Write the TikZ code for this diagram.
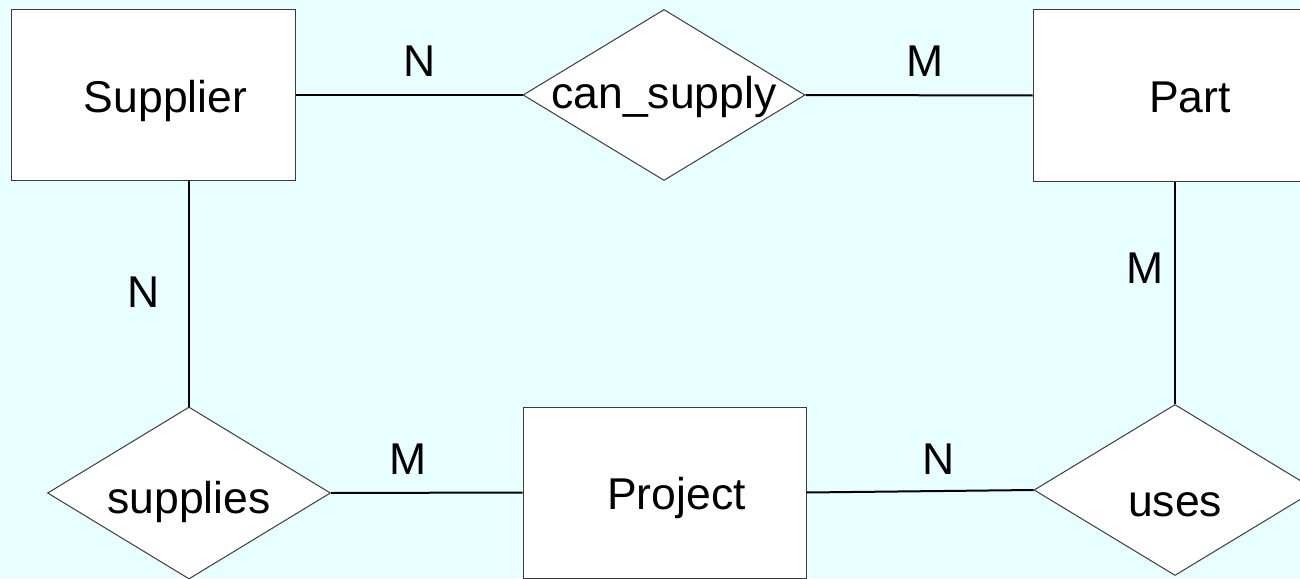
\documentclass[tikz,border=0pt]{standalone}
\usepackage{fontspec}
\setmainfont{Liberation Sans}
\usetikzlibrary{shapes.geometric}
\definecolor{bgcol}{RGB}{232,255,255}
\definecolor{edgecol}{RGB}{60,60,60}
\tikzset{
  entity/.style={draw=edgecol, fill=white, line width=1pt, rectangle, inner sep=0pt,
    minimum width=284pt, minimum height=171pt, text height=34pt, text depth=0pt,
    font=\fontsize{44.5}{53}\selectfont},
  relation/.style={draw=edgecol, fill=white, line width=1pt, diamond, inner sep=0pt,
    minimum width=282pt, minimum height=171pt, text depth=0pt,
    font=\fontsize{44.5}{53}\selectfont},
  conn/.style={draw=black, line width=2pt},
  card/.style={anchor=base, inner sep=0pt, font=\fontsize{44.5}{53}\selectfont}
}
\begin{document}
\begin{tikzpicture}[x=1pt, y=-1pt]
\useasboundingbox (0,0) rectangle (1300,578);
\fill[bgcol] (0,0) rectangle (1300,578);
\clip (0,0) rectangle (1300,578);
% entities
\node[entity] (sup) at (153,95) {\hspace*{25pt}Supplier};
\node[entity] (part) at (1175,95.5) {\hspace*{30pt}Part};
\node[entity, minimum width=283pt] (proj) at (664.5,492.5) {\hspace*{24pt}Project};
% relationships
\node[relation, text height=26pt] (can) at (664,95) {\makebox[0pt]{can\_supply}};
\node[relation, minimum width=283pt, minimum height=172pt, text height=40pt] (supd) at (189,493) {\makebox[0pt]{supplies}};
\node[relation, text height=52pt] (uses) at (1175,490) {\makebox[0pt]{uses}};
% connectors
\draw[conn] (sup.east) -- (can.west);
\draw[conn] (can.east) -- (part.west);
\draw[conn] (sup.south -| supd.north) -- (supd.north);
\draw[conn] (part.south) -- (uses.north);
\draw[conn] (supd.east) -- (proj.west);
\draw[conn] (proj.east) -- (uses.west);
% cardinalities
\node[card] (c1) at (420,76) {N};
\node[card] (c2) at (925,76) {M};
\node[card] (c3) at (144,307) {N};
\node[card] (c4) at (1145,283) {M};
\node[card] (c5) at (408,474) {M};
\node[card] (c6) at (939,474) {N};
\end{tikzpicture}
\end{document}
